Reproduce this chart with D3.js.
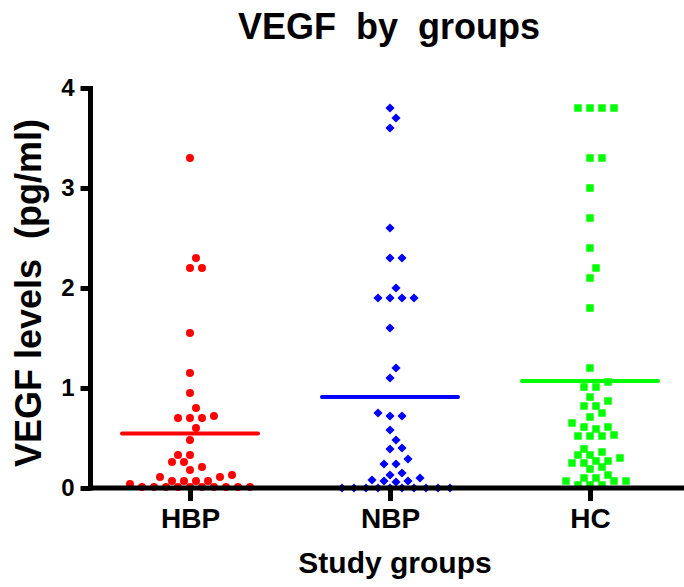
<!DOCTYPE html>
<html lang="en">
<head>
  <meta charset="UTF-8">
  <title>VEGF by groups</title>
  <style>
    body { margin: 0; background: #fff; }
    svg text { font-family: "Liberation Sans", Arial, sans-serif; font-weight: bold; fill: #000; }
  </style>
</head>
<body>
  <svg id="chart" width="684" height="587"></svg>

  <script src="https://cdnjs.cloudflare.com/ajax/libs/d3/7.8.5/d3.min.js"></script>
  <script>
    // values (pg/ml)
    const groups = ['HBP', 'NBP', 'HC'];
    const hbpValues = [3.3, 2.3, 2.2, 2.2, 1.55, 1.15, 0.95, 0.8, 0.7, 0.7, 0.7, 0.72,
      0.6, 0.48, 0.33, 0.33, 0.26, 0.26, 0.21, 0.18, 0.11, 0.11, 0.13,
      0.07, 0.07, 0.07, 0.07, 0.04,
      0.01, 0.01, 0.01, 0.01, 0.01, 0.01, 0.01, 0.01, 0.01, 0.01];
    const nbpValues = [3.8, 3.7, 3.6, 2.6, 2.3, 2.3, 2.0, 1.9, 1.9, 1.9, 1.9, 1.6, 1.2, 1.1,
      0.75, 0.72, 0.72, 0.58, 0.48, 0.40, 0.39, 0.29, 0.24, 0.24, 0.15, 0.10, 0.13,
      0.06, 0.08, 0.07, 0.07,
      0, 0, 0, 0, 0, 0, 0, 0, 0, 0];
    const hcValues = [3.8, 3.8, 3.8, 3.8, 3.3, 3.3, 3.0, 2.7, 2.4, 2.2, 2.1, 1.8, 1.2,
      1.06, 1.01, 1.01, 0.91, 0.87, 0.82, 0.82, 0.75, 0.71, 0.65, 0.61, 0.61, 0.59,
      0.52, 0.52, 0.52, 0.53, 0.39, 0.36, 0.33, 0.33, 0.30, 0.27, 0.27, 0.25, 0.25,
      0.21, 0.19, 0.13, 0.10, 0.10, 0.07, 0.07, 0.07, 0.03, 0.03, 0.03];
    const yTicks = [0, 1, 2, 3, 4];

    const series = [hbpValues, nbpValues, hcValues];
    const colors = ['#ff0000', '#0000ff', '#00ff00'];
    const symbols = [
      d3.symbol().type(d3.symbolCircle).size(50),
      d3.symbol().type(d3.symbolSquare).size(42),   // turned 45deg below
      d3.symbol().type(d3.symbolSquare).size(56)
    ];

    const svg = d3.select('#chart');

    const x = d3.scalePoint().domain(groups).range([90, 690]).padding(0.5);
    const y = d3.scaleLinear().domain([0, 4]).range([488, 88]);

    // spread points sideways like a prism scatter: nearest free slot, right first
    function swarm(values, step = 6, d = 8.3) {
      const pts = values.map(v => ({ v, py: y(v) })).sort((a, b) => a.v - b.v);
      const placed = [];
      pts.forEach(p => {
        for (let k = 0; ; k++) {
          const off = (k === 0 ? 0 : (k % 2 ? 1 : -1) * Math.ceil(k / 2)) * step;
          const hit = placed.some(q => {
            const dx = q.dx - off, dy = q.py - p.py;
            return dx * dx + dy * dy < d * d || (Math.abs(dx) < 1 && Math.abs(dy) < 12.5);
          });
          if (!hit) { p.dx = off; placed.push(p); break; }
        }
      });
      return placed;
    }

    series.forEach((vals, i) => {
      const cx = x(groups[i]);
      svg.append('g')
        .selectAll('path')
        .data(swarm(vals))
        .enter().append('path')
          .attr('d', symbols[i])
          .attr('fill', colors[i])
          .attr('transform', d => `translate(${cx + d.dx},${d.py})` + (i === 1 ? ' rotate(45)' : ''));

      const m = d3.mean(vals);
      svg.append('line')
        .attr('x1', cx - 68).attr('x2', cx + 68)
        .attr('y1', y(m)).attr('y2', y(m))
        .attr('stroke', colors[i])
        .attr('stroke-width', 4)
        .attr('stroke-linecap', 'round');
    });

    // axes
    const yAxis = svg.append('g')
      .attr('transform', 'translate(90.5,0)')
      .call(d3.axisLeft(y).tickValues(yTicks).tickFormat(d3.format('d'))
        .tickSize(10).tickSizeOuter(0).tickPadding(6));

    const xAxis = svg.append('g')
      .attr('transform', 'translate(0,488)')
      .call(d3.axisBottom(x).tickSize(13).tickSizeOuter(0).tickPadding(7));

    [yAxis, xAxis].forEach(g => {
      g.select('.domain').attr('stroke', '#000').attr('stroke-width', 5);
      g.selectAll('.tick line').attr('stroke', '#000').attr('stroke-width', 5);
    });
    yAxis.select('.domain').attr('d', 'M0,86V490.5');
    xAxis.select('.domain').attr('d', 'M88,0H690');
    yAxis.selectAll('.tick text').style('font-size', '24px');
    xAxis.selectAll('.tick text').style('font-size', '28px');

    // titles
    svg.append('text')
      .attr('x', 389).attr('y', 39)
      .attr('text-anchor', 'middle')
      .style('font-size', '36px')
      .style('white-space', 'pre')
      .text('VEGF  by  groups');

    svg.append('text')
      .attr('transform', 'translate(41,293) rotate(-90)')
      .attr('text-anchor', 'middle')
      .style('font-size', '36px')
      .style('white-space', 'pre')
      .text('VEGF levels  (pg/ml)');

    svg.append('text')
      .attr('x', 395).attr('y', 573)
      .attr('text-anchor', 'middle')
      .style('font-size', '30px')
      .text('Study groups');
  </script>
</body>
</html>
